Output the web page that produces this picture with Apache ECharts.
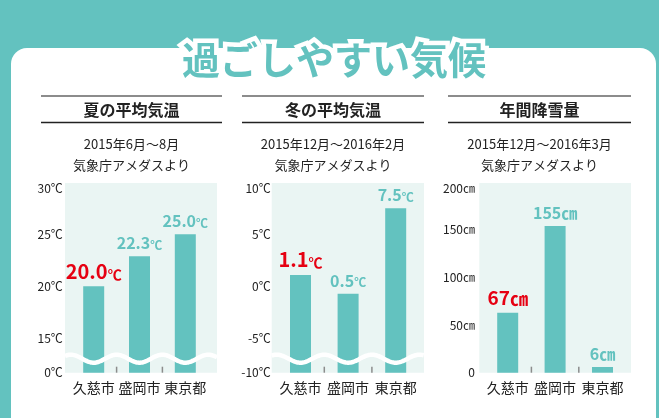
<!DOCTYPE html>
<html>
<head>
<meta charset="utf-8">
<script src="https://cdn.jsdelivr.net/npm/echarts@6/dist/echarts.min.js"></script>
<style>
html, body { margin: 0; padding: 0; background: #63c2bf; }
#main { width: 659px; height: 418px; }
</style>
</head>
<body>
<div id="main"></div>
<script>
// データ
var cities = ['久慈市', '盛岡市', '東京都'];

var summerTemp = [20.0, 22.9, 25.0];      // 棒の高さ
var summerText = ['20.0', '22.3', '25.0']; // 棒の上の数値
var summerTicks = [0, 15, 20, 25, 30];

var winterTemp = [1.1, -0.7, 7.5];
var winterText = ['1.1', '0.5', '7.5'];
var winterTicks = [-10, -5, 0, 5, 10];

var snowDepth = [63, 154, 6];
var snowText = ['67', '155', '6'];
var snowTicks = [0, 50, 100, 150, 200];

var panelTitles = ['夏の平均気温', '冬の平均気温', '年間降雪量'];
var panelNotes = ['2015年6月～8月', '2015年12月～2016年2月', '2015年12月～2016年3月'];
var sourceNote = '気象庁アメダスより';

var TEAL = '#63c2bf';
var RED = '#e60012';
var FONT = '"Noto Sans CJK JP", "Noto Sans", sans-serif';

var gridTop = 182.3, gridH = 190.4;

// レイアウト（px）
var panels = [
  { head: [41, 222], bg: [65, 217], left: 70.8, width: 137.4, margin: 8,
    min: 11.7, max: 30, values: summerTemp, texts: summerText, ticks: summerTicks, unit: '℃', wave: true },
  { head: [242, 424], bg: [271.7, 424], left: 276.7, width: 142.8, margin: 6,
    min: -8.3, max: 10, values: winterTemp, texts: winterText, ticks: winterTicks, unit: '℃', wave: true },
  { head: [448, 631], bg: [479.3, 631], left: 484, width: 142.2, margin: 9,
    min: 0, max: 200, values: snowDepth, texts: snowText, ticks: snowTicks, unit: '㎝', wave: false }
];

var chart = echarts.init(document.getElementById('main'), null, { renderer: 'canvas' });

var grids = [], xAxes = [], yAxes = [], series = [];
var graphics = [
  { type: 'rect', shape: { x: 11, y: 48, width: 645, height: 420, r: 16 }, style: { fill: '#fff' }, z: 0 },
  { type: 'text', x: 334, y: 60, z: 10,
    style: { text: '過ごしやすい気候', font: 'bold 38px ' + FONT, fill: TEAL, stroke: '#fff', lineWidth: 9,
      lineJoin: 'round', align: 'center', verticalAlign: 'middle', textAlign: 'center', textVerticalAlign: 'middle' } }
];

function decoRender(p) {
  return function (params, api) {
    var cs = params.coordSys;
    var base = cs.y + cs.height;
    var c0 = api.coord([0, p.max])[0];
    var c1 = api.coord([1, p.max])[0];
    var c2 = api.coord([2, p.max])[0];
    var children = [];
    if (p.wave) {  // 軸の省略を示す波線
      var pts = [], step = c1 - c0, yc = base - 14;
      for (var x = p.bg[0]; x <= p.bg[1] + 0.5; x += 1) {
        pts.push([x, yc + 4 * Math.cos(2 * Math.PI * (x - c0) / step)]);
      }
      children.push({ type: 'polyline', shape: { points: pts },
        style: { stroke: '#fff', lineWidth: 4.5, fill: null } });
    }
    [(c0 + c1) / 2, (c1 + c2) / 2].forEach(function (x) {
      children.push({ type: 'line', shape: { x1: x, y1: base - 6, x2: x, y2: base },
        style: { stroke: '#8c8c8c', lineWidth: 1.5 } });
    });
    return { type: 'group', children: children };
  };
}

panels.forEach(function (p, i) {
  var cx = (p.head[0] + p.head[1]) / 2;

  // 見出し
  graphics.push(
    { type: 'line', shape: { x1: p.head[0], y1: 96, x2: p.head[1], y2: 96 }, style: { stroke: '#666', lineWidth: 1.5 }, z: 5 },
    { type: 'line', shape: { x1: p.head[0], y1: 122.5, x2: p.head[1], y2: 122.5 }, style: { stroke: '#222', lineWidth: 1.5 }, z: 5 },
    { type: 'text', x: cx, y: 110, z: 5,
      style: { text: panelTitles[i], font: 'bold 16px ' + FONT, fill: '#222',
        align: 'center', verticalAlign: 'middle', textAlign: 'center', textVerticalAlign: 'middle' } },
    { type: 'text', x: cx, y: 144, z: 5,
      style: { text: panelNotes[i], font: '13px ' + FONT, fill: '#222',
        align: 'center', verticalAlign: 'middle', textAlign: 'center', textVerticalAlign: 'middle' } },
    { type: 'text', x: cx, y: 165, z: 5,
      style: { text: sourceNote, font: '13px ' + FONT, fill: '#222',
        align: 'center', verticalAlign: 'middle', textAlign: 'center', textVerticalAlign: 'middle' } },
    { type: 'rect', shape: { x: p.bg[0], y: 183, width: p.bg[1] - p.bg[0], height: gridTop + gridH - 183 },
      style: { fill: '#eaf5f3' }, z: 1 }
  );

  grids.push({ left: p.left, width: p.width, top: gridTop, height: gridH });

  xAxes.push({
    type: 'category', gridIndex: i, data: cities,
    axisLine: { show: false }, axisTick: { show: false },
    axisLabel: { interval: 0, hideOverlap: false, color: '#222', fontSize: 14, fontFamily: FONT, margin: 8 }
  });

  var yAxis = {
    type: 'value', gridIndex: i, min: p.min, max: p.max, splitNumber: 4, startValue: p.min,
    axisLine: { show: false }, axisTick: { show: false },
    axisLabel: {
      color: '#222', fontSize: 12, fontFamily: FONT, margin: p.margin,
      verticalAlignMaxLabel: 'top',
      formatter: function (v, idx) {
        var t = p.ticks[idx];
        if (p.unit === '㎝' && t === 0) return '0';
        return t + p.unit;
      }
    },
    splitLine: { show: true, showMinLine: false, showMaxLine: false,
      lineStyle: { color: '#c9c9c9', width: 1, type: [4, 3] } }
  };
  if (p.unit === '℃') { yAxis.minInterval = 5; yAxis.maxInterval = 5; }
  else { yAxis.interval = 50; }
  yAxes.push(yAxis);

  var bigDigit = p.unit === '㎝' ? 19 : 20;
  var bigUnit = p.unit === '㎝' ? 18 : 14;
  var smallDigit = 16;
  var smallUnit = p.unit === '㎝' ? 16 : 12;

  series.push({
    type: 'bar', xAxisIndex: i, yAxisIndex: i, data: p.values, barWidth: 21, z: 2,
    itemStyle: { color: TEAL },
    label: {
      show: true, position: 'top', distance: 5, fontFamily: FONT,
      formatter: function (params) {
        var k = params.dataIndex === 0 ? 'r' : 't';
        return '{' + k + '|' + p.texts[params.dataIndex] + '}{' + k + 'u|' + p.unit + '}';
      },
      rich: {
        r: { color: RED, fontSize: bigDigit, fontWeight: 'bold', fontFamily: FONT },
        ru: { color: RED, fontSize: bigUnit, fontWeight: 'bold', fontFamily: FONT, verticalAlign: 'bottom' },
        t: { color: TEAL, fontSize: smallDigit, fontWeight: 'bold', fontFamily: FONT },
        tu: { color: TEAL, fontSize: smallUnit, fontWeight: 'bold', fontFamily: FONT, verticalAlign: 'bottom' }
      }
    }
  });

  series.push({
    type: 'custom', xAxisIndex: i, yAxisIndex: i, data: [[0, p.max]], z: 3, clip: false, silent: true,
    renderItem: decoRender(p)
  });
});

chart.setOption({
  backgroundColor: TEAL,
  animation: false,
  graphic: { elements: graphics },
  grid: grids,
  xAxis: xAxes,
  yAxis: yAxes,
  series: series
});
</script>
</body>
</html>
